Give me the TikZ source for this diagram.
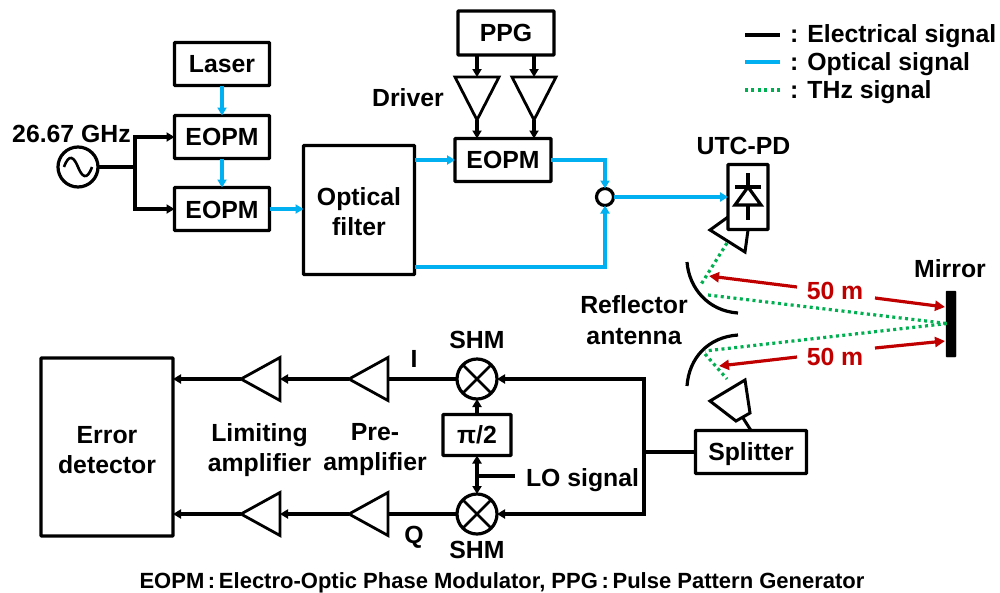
\documentclass[tikz,border=0pt]{standalone}
\usepackage{fontspec}
\setmainfont{Liberation Sans}
\usetikzlibrary{arrows.meta,shapes.geometric,calc}
\definecolor{opt}{HTML}{00B0F0}
\definecolor{thz}{HTML}{00B050}
\definecolor{dist}{HTML}{C00000}
\newcommand\dropby[2]{\raisebox{-#1}[\height][\depth]{#2}}
\tikzset{
  x=1pt,y=-1pt,
  every node/.style={font=\fontsize{24.8}{29}\selectfont\bfseries,inner sep=0,outer sep=0,align=center},
  tip/.style={-{Triangle[length=8pt,width=9pt]}},
  elec/.style={line width=3.2pt,black},
  optl/.style={line width=3.2pt,opt},
  thzl/.style={line width=3.2pt,thz,dash pattern=on 3pt off 3.4pt},
  distl/.style={line width=3.2pt,dist,-{Triangle[length=10pt,width=10pt]}},
  blockbox/.style={draw,line width=3.2pt,minimum width=#1,rounded corners=0.6pt},
  ampl/.style={draw,line width=2.8pt,isosceles triangle,isosceles triangle stretches,shape border rotate=180,minimum width=43pt,minimum height=39pt,anchor=apex},
  drv/.style={draw,line width=2.8pt,isosceles triangle,isosceles triangle stretches,shape border rotate=270,minimum width=44pt,minimum height=43pt,anchor=apex},
  mixer/.style={draw,line width=3.2pt,circle,minimum size=40pt},
  horn/.style={line width=3pt,black,line join=miter},
  dish/.style={line width=3.2pt,black},
}
\begin{document}
\begin{tikzpicture}
\useasboundingbox (0,0) rectangle (1000,592);
% top-left blocks
\node[blockbox=95pt,minimum height=43pt] (laser) at (222,64) {Laser};
\node[blockbox=95pt,minimum height=43pt] (eopma) at (222,137) {EOPM};
\node[blockbox=95pt,minimum height=43pt] (eopmb) at (222,209) {\dropby{1pt}{EOPM}};
\node[blockbox=111pt,minimum height=129pt] (filter) at (359,210) {\dropby{1.5pt}{Optical}\\[1pt]\dropby{1.5pt}{filter}};
\node[blockbox=96pt,minimum height=43pt] (eopmc) at (503,160) {EOPM};
\node[blockbox=96pt,minimum height=44pt] (ppg) at (506,33) {PPG};
\node[drv] (drva) at (477,120) {};
\node[drv] (drvb) at (534,120) {};
\node[draw,line width=3.2pt,circle,minimum size=40pt] (osc) at (78,167) {};
\node[draw,line width=3.2pt,circle,minimum size=17pt] (comb) at (605,197) {};
\node[blockbox=40pt,minimum height=65pt] (utc) at (748,197) {};
\node[blockbox=111pt,minimum height=43pt] (split) at (751,452) {\dropby{2.5pt}{Splitter}};
\node[mixer] (shmi) at (477,379) {};
\node[mixer] (shmq) at (477,514) {};
\node[blockbox=68pt,minimum height=41pt] (phase) at (477,435) {π/2};
\node[ampl] (prei) at (349,379) {};
\node[ampl] (limi) at (241,379) {};
\node[ampl] (preq) at (349,514) {};
\node[ampl] (limq) at (241,514) {};
\node[blockbox=132pt,minimum height=178pt] (err) at (107,447) {\dropby{3.5pt}{Error}\\[1pt]\dropby{3.5pt}{detector}};
\node[draw,fill=black,minimum width=10pt,minimum height=66pt,rounded corners=0.6pt] (mirror) at (951,324) {};
% labels
\node (lfreq) at (71.5,134) {26.67 GHz};
\node (ldrv) at (408,98) {Driver};
\node (lutc) at (743.5,146) {UTC-PD};
\node (lmirror) at (950,269) {Mirror};
\node (lrefl) at (634,320.5) {Reflector\\[2pt]antenna};
\node (lshmi) at (477,340) {SHM};
\node (lshmq) at (477,550) {SHM};
\node (li) at (414,359) {I};
\node (lq) at (414,537) {Q};
\node (llim) at (259.5,450) {Limiting\\[1pt]amplifier};
\node (lpre) at (375,450) {Pre-\\[1pt]amplifier};
\node[anchor=west] (llo) at (526,480) {LO signal};
\node (ldista) at (835,290.5) {\textcolor{dist}{50 m}};
\node (ldistb) at (835,356.5) {\textcolor{dist}{50 m}};
\node[font=\fontsize{22}{26}\selectfont\bfseries] (foot) at (502,583) {EOPM\,:\,Electro-Optic Phase Modulator, PPG\,:\,Pulse Pattern Generator};
% legend
\coordinate (lega) at (745,35);
\coordinate (legae) at (780,35);
\coordinate (legb) at (745,62);
\coordinate (legbe) at (780,62);
\coordinate (legc) at (745,90);
\coordinate (legce) at (780,90);
\draw[elec] (lega) -- (legae);
\draw[optl] (legb) -- (legbe);
\draw[thzl] (legc) -- (legce);
\node[anchor=west] (tlega) at (790,36.5) {: Electrical signal};
\node[anchor=west] (tlegb) at (790,64) {: Optical signal};
\node[anchor=west] (tlegc) at (790,92) {: THz signal};
% oscillator symbol
\draw[line width=2.6pt] (64,167) .. controls (69,153) and (74,157) .. (78,167) .. controls (82,177) and (87,181) .. (92,167);
% electrical: oscillator
\coordinate (forkc) at (135,167);
\draw[elec] (osc.east) -- (forkc);
\draw[elec,tip] (forkc) |- (eopma.west);
\draw[elec,tip] (forkc) |- (eopmb.west);
% optical
\draw[optl,tip] (laser) -- (eopma);
\draw[optl,tip] (eopma) -- (eopmb);
\draw[optl,tip] (eopmb.east) -- (filter.west |- eopmb.east);
\draw[optl,tip] (filter.east |- eopmc.west) -- (eopmc.west);
\draw[optl,tip] (eopmc.east) -| (comb.north);
\coordinate (filtout) at ($(filter.east)+(0,57)$);
\draw[optl,tip] (filtout) -| (comb.south);
\draw[optl,tip] (comb.east) -- (utc.west);
% ppg and drivers
\draw[elec,tip] (ppg.south -| drva.apex) -- (drva.north);
\draw[elec,tip] (ppg.south -| drvb.apex) -- (drvb.north);
\draw[elec,tip] (drva.apex) -- (eopmc.north -| drva.apex);
\draw[elec,tip] (drvb.apex) -- (eopmc.north -| drvb.apex);
% receiver
\coordinate (bus) at (644,452);
\draw[elec] (split.west) -- (bus);
\draw[elec,tip] (bus) |- (shmi.east);
\draw[elec,tip] (bus) |- (shmq.east);
\draw[elec] (shmi.west) -- (prei.east);
\draw[elec] (shmq.west) -- (preq.east);
\draw[elec,tip] (prei.apex) -- (limi.east);
\draw[elec,tip] (preq.apex) -- (limq.east);
\draw[elec,tip] (limi.apex) -- (err.east |- limi.apex);
\draw[elec,tip] (limq.apex) -- (err.east |- limq.apex);
\draw[elec,tip] (phase) -- (shmi);
\coordinate (lofork) at (477,476);
\coordinate (loend) at (515,476);
\draw[elec] (lofork) -- (loend);
\draw[elec,tip] (lofork) -- (phase.south);
\draw[elec,tip] (lofork) -- (shmq.north);
% mixer crosses
\foreach \m in {shmi,shmq}{
  \draw[line width=2.8pt] (\m.north west) -- (\m.south east);
  \draw[line width=2.8pt] (\m.north east) -- (\m.south west);
}
% photodiode
\draw[line width=3.2pt] (748,173) -- (748,220);
\draw[line width=3.2pt] (735,187) -- (761,187);
\draw[line width=3.2pt,fill=white] (748,187) -- (735,205) -- (761,205) -- cycle;
% horns
\draw[horn] (728,217) -- (710,230) -- (745,252) -- (748,230);
\draw[horn] (745,380) -- (710,401) -- (736,421) -- (750,413) -- cycle;
\coordinate (hornfeed) at (743,418);
\draw[horn] (hornfeed) -- (split.north);
% reflectors
\draw[dish] (687,262) .. controls (689,288) and (708,311) .. (738,313);
\draw[dish] (687,386) .. controls (689,358) and (708,337) .. (738,335);
% THz beams
\coordinate (hta) at (727,243);
\coordinate (tfoc) at (700,286);
\coordinate (tref) at (708,295);
\coordinate (mhit) at (947,323.5);
\coordinate (bref) at (705,351);
\coordinate (bfoc) at (705,354);
\coordinate (hbb) at (727,379);
\draw[thzl] (hta) -- (tfoc);
\draw[thzl] (tref) -- (mhit);
\draw[thzl] (mhit) -- (bref);
\draw[thzl] (bfoc) -- (hbb);
% distance arrows
\coordinate (da) at (797,287);
\coordinate (db) at (875,298);
\coordinate (dc) at (797,357);
\coordinate (dd) at (875,348);
\coordinate (dae) at (709,276);
\coordinate (dbe) at (945,307);
\coordinate (dce) at (719,366);
\coordinate (dde) at (945,341);
\draw[distl] (da) -- (dae);
\draw[distl] (db) -- (dbe);
\draw[distl] (dc) -- (dce);
\draw[distl] (dd) -- (dde);
\end{tikzpicture}
\end{document}
